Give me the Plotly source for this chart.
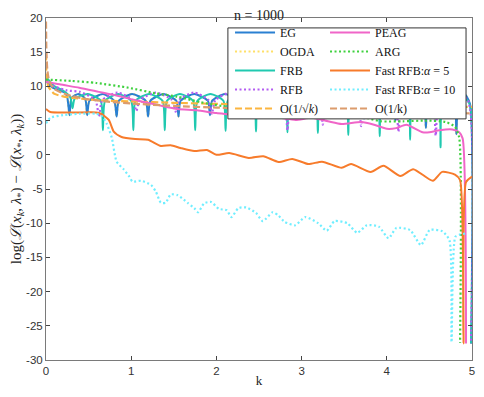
import plotly.graph_objects as go

# ---- data ----
eg_k = [0, 0.03, 0.08, 0.15, 0.22, 0.25, 0.276, 0.30, 0.38, 0.46, 0.484, 0.51, 0.67, 0.80, 0.829, 0.855,
        1.01, 1.17, 1.198, 1.225, 1.38, 1.53, 1.555, 1.58, 1.74, 1.90, 1.924, 1.95, 2.10, 2.255, 2.281, 2.305,
        2.46, 2.61, 2.638, 2.665, 2.82, 2.98, 3.007, 3.035, 3.19, 3.34, 3.364, 3.39, 3.55, 3.705, 3.733, 3.76,
        3.92, 4.075, 4.101, 4.127, 4.28, 4.433, 4.459, 4.485, 4.64, 4.79, 4.816, 4.84, 4.91, 4.975, 4.99]
eg_v = [10.9, 10.3, 9.8, 9.4, 9.1, 8.4, 5.8, 8.3, 8.9, 8.2, 5.8, 7.9, 8.9, 7.9, 5.6, 7.9,
        8.9, 7.9, 5.6, 7.9, 8.9, 7.9, 5.6, 7.9, 8.9, 7.9, 5.8, 7.9, 8.9, 7.9, 5.7, 7.9,
        8.9, 7.9, 5.7, 7.9, 8.9, 7.9, 5.6, 7.9, 8.9, 7.9, 5.5, 7.9, 8.9, 7.9, 5.3, 7.9,
        8.9, 7.9, 5.0, 7.9, 8.9, 7.8, 3.9, 7.8, 8.9, 7.8, 3.0, 7.8, 8.9, 7.5, -27.6]

frb_k = [0, 0.04, 0.10, 0.20, 0.285, 0.311, 0.337, 0.49, 0.642, 0.668, 0.694, 0.846, 0.999, 1.025, 1.051,
         1.21, 1.368, 1.394, 1.42, 1.572, 1.725, 1.751, 1.777, 1.93, 2.082, 2.108, 2.134, 2.286, 2.439, 2.465,
         2.491, 2.65, 2.808, 2.834, 2.86, 3.012, 3.165, 3.191, 3.217, 3.37, 3.522, 3.548, 3.574, 3.733, 3.891,
         3.917, 3.943, 4.095, 4.248, 4.274, 4.30, 4.452, 4.605, 4.631, 4.657, 4.81, 4.965, 4.99]
frb_v = [11.4, 10.8, 10.0, 9.4, 8.4, 6.8, 8.2, 8.9, 7.9, 3.6, 7.9, 8.9, 7.9, 3.6, 7.9,
         8.9, 7.9, 3.6, 7.9, 8.9, 7.9, 3.6, 7.9, 8.9, 7.9, 3.5, 7.9, 8.9, 7.9, 3.4,
         7.9, 8.9, 7.9, 3.3, 7.9, 8.9, 7.9, 3.2, 7.9, 8.9, 7.9, 2.9, 7.9, 8.9, 7.9,
         2.7, 7.9, 8.9, 7.9, 2.2, 7.9, 8.9, 7.8, 1.1, 7.8, 8.9, 7.6, -27.6]

rfb_k = [0, 0.10, 0.25, 0.40, 0.58, 0.622, 0.66, 0.84, 1.02, 1.06, 1.10, 1.29, 1.48, 1.521, 1.56, 1.734,
         1.907, 1.947, 1.987, 2.166, 2.345, 2.385, 2.425, 2.61, 2.794, 2.834, 2.874, 3.04, 3.209, 3.249,
         3.289, 3.47, 3.658, 3.698, 3.738, 3.917, 4.096, 4.136, 4.176, 4.355, 4.534, 4.574, 4.614, 4.78,
         4.95, 4.988]
rfb_v = [11.0, 10.0, 9.4, 9.2, 8.0, 5.6, 8.0, 9.1, 8.0, 6.4, 8.0, 9.1, 8.0, 6.3, 8.0, 9.1,
         8.0, 6.0, 8.0, 9.1, 8.0, 5.5, 8.0, 9.1, 8.0, 3.6, 8.0, 9.1, 8.0, 4.4,
         8.0, 9.1, 8.0, 4.2, 8.0, 9.1, 8.0, 3.4, 8.0, 9.1, 8.0, 2.8, 8.0, 9.1,
         8.0, -27.6]

rate_k = [0, 0.005, 0.015, 0.03, 0.06, 0.1, 0.2, 0.3, 0.5, 0.75, 1.0, 1.5, 2.0, 2.5, 3.0, 3.5, 4.0, 4.5, 5.0]
sqrt_v = [14.8, 12.0, 10.6, 9.9, 9.4, 8.9, 8.55, 8.35, 8.1, 7.9, 7.8, 7.6, 7.45, 7.35, 7.25, 7.18, 7.1, 7.05, 7.0]
inv_v = [19.5, 15.0, 12.5, 11.2, 10.2, 9.6, 9.0, 8.6, 8.1, 7.75, 7.5, 7.15, 6.9, 6.7, 6.5, 6.4, 6.25, 6.15, 6.05]

peag_k = [0, 0.16, 0.39, 0.62, 0.85, 1.08, 1.31, 1.54, 1.77, 2.0, 2.24, 2.41, 2.58, 2.75, 2.93, 3.12,
          3.31, 3.47, 3.70, 3.85, 4.0, 4.11, 4.23, 4.42, 4.50, 4.62, 4.77, 4.85, 4.89, 4.93]
peag_v = [10.7, 10.3, 9.8, 9.2, 8.6, 7.9, 7.3, 6.7, 6.5, 6.1, 5.8, 5.4, 5.6, 5.4, 5.1, 5.4,
          4.9, 4.5, 4.8, 4.4, 3.8, 3.9, 4.4, 3.3, 3.3, 3.6, 3.7, 3.3, 2.4, -27.6]

arg_k = [0, 0.3, 0.59, 0.97, 1.28, 1.54, 1.81, 2.15, 2.55, 2.85, 3.16, 3.39, 3.70, 3.93, 4.19, 4.46,
         4.69, 4.80, 4.85, 4.86]
arg_v = [11.0, 10.8, 10.5, 9.8, 9.0, 8.5, 7.7, 7.0, 6.9, 6.6, 6.2, 6.0, 5.6, 4.9, 4.9, 5.0,
         4.8, 4.1, 2.5, -27.5]

f5_k = [0, 0.05, 0.59, 0.645, 0.737, 0.795, 0.887, 1.048, 1.198, 1.348, 1.463, 1.578, 1.74, 1.89, 2.0,
        2.15, 2.38, 2.55, 2.73, 2.89, 3.08, 3.24, 3.47, 3.58, 3.81, 3.96, 4.16, 4.31, 4.54, 4.65, 4.80,
        4.86, 4.90, 4.93, 5.0]
f5_v = [6.7, 6.25, 6.2, 6.0, 5.1, 3.4, 2.6, 2.3, 2.2, 1.3, 1.4, 1.0, 0.55, 0.7, 0.0,
        0.25, -0.45, -0.2, -1.05, -0.6, -1.35, -1.0, -1.9, -1.35, -2.5, -1.6, -3.1, -2.1, -3.8, -2.5, -2.9,
        -3.7, -27.6, -4.0, -3.2]

f10_k = [0, 0.05, 0.2, 0.39, 0.59, 0.66, 0.714, 0.772, 0.829, 0.91, 0.979, 1.014, 1.118, 1.233, 1.29,
         1.348, 1.405, 1.463, 1.545, 1.66, 1.74, 1.786, 1.855, 1.94, 2.028, 2.12, 2.177, 2.258, 2.35, 2.465,
         2.545, 2.66, 2.73, 2.8, 2.926, 3.042, 3.194, 3.295, 3.387, 3.537, 3.652, 3.767, 3.906, 4.021, 4.112,
         4.274, 4.4, 4.504, 4.654, 4.735, 4.76, 4.804, 4.85, 4.92]
f10_v = [4.6, 5.4, 5.8, 6.0, 6.0, 5.6, 4.5, 2.5, -1.0, -2.1, -3.2, -3.9, -3.8, -4.4, -5.4,
         -7.0, -7.0, -5.8, -5.9, -7.0, -7.8, -8.4, -7.1, -6.9, -7.9, -8.1, -9.1, -7.8, -7.7, -8.5,
         -9.7, -8.4, -8.9, -9.8, -10.3, -9.1, -10.0, -11.1, -9.7, -10.0, -11.4, -10.3, -10.5, -12.2, -10.7,
         -11.0, -13.2, -11.0, -11.2, -12.5, -27.4, -12.0, -11.7, -11.5]

serif = "Liberation Serif"
sans = "Liberation Sans"

# (name, k, values, color, dash, legend, rank) in drawing order
series = [
    ("OGDA", eg_k, eg_v, "#ffe066", "2px,2.5px", "legend", 2),
    ("EG", eg_k, eg_v, "#2a80d2", "solid", "legend", 1),
    ("FRB", frb_k, frb_v, "#20c9b0", "solid", "legend", 3),
    ("RFB", rfb_k, rfb_v, "#b35cf2", "2px,2.5px", "legend", 4),
    ("O(1/√<i>k</i>)", rate_k, sqrt_v, "#fbb540", "7px,3px", "legend", 5),
    ("PEAG", peag_k, peag_v, "#f065c8", "solid", "legend2", 6),
    ("ARG", arg_k, arg_v, "#3fd13f", "2px,2.5px", "legend2", 7),
    ("Fast RFB:<i>α</i> = 5", f5_k, f5_v, "#f77b2b", "solid", "legend2", 8),
    ("Fast RFB:<i>α</i> = 10", f10_k, f10_v, "#70eeff", "2px,2.5px", "legend2", 9),
    ("O(1/k)", rate_k, inv_v, "#dc9c6c", "7px,3px", "legend2", 10),
]

fig = go.Figure()
for name, kk, vv, col, dash, leg, rank in series:
    fig.add_trace(go.Scatter(
        x=kk, y=vv, name=name, mode="lines",
        line=dict(color=col, width=2.2 if dash != "solid" else 2, dash=dash, shape="spline", smoothing=0.6),
        legend=leg, legendrank=rank))

yt = list(range(-30, 25, 5))
legfont = dict(family=serif, size=12, color="#111")
# the page body keeps an 8px margin all round, so the figure fits inside it
fig.update_layout(
    width=468, height=381,
    margin=dict(l=38, r=4, t=10, b=29),
    plot_bgcolor="white", paper_bgcolor="white",
    showlegend=True,
    title=dict(text="n = 1000", x=0.5, xref="paper", y=1, yref="container",
               yanchor="top", pad=dict(t=2, b=0), font=dict(family=serif, size=14, color="#222")),
    xaxis=dict(range=[0, 5], tickvals=[0, 1, 2, 3, 4, 5], ticks="inside", ticklen=4, mirror="ticks",
               showline=True, linecolor="#7a7a7a", linewidth=1, showgrid=False, zeroline=False,
               automargin=False, ticklabeloverflow="allow",
               tickfont=dict(family=sans, size=11.5, color="#333"),
               title=dict(text="k", font=dict(family=serif, size=13, color="#222"), standoff=0)),
    yaxis=dict(range=[-30, 20], tickvals=yt, ticktext=[str(t) for t in yt], ticks="inside", ticklen=4,
               mirror="ticks", showline=True, linecolor="#7a7a7a", linewidth=1, showgrid=False,
               zeroline=False, automargin=False, ticklabeloverflow="allow",
               tickfont=dict(family=sans, size=11.5, color="#333"),
               title=dict(text="log(<i>ℒ</i>(<i>x<sub>k</sub></i>, <i>λ</i><sub>*</sub>) − "
                               "<i>ℒ</i>(<i>x</i><sub>*</sub>, <i>λ<sub>k</sub></i>))",
                          font=dict(family=serif, size=15, color="#222"), standoff=0)),
    legend=dict(x=0.432, y=1.0, xanchor="left", yanchor="top", bgcolor="rgba(0,0,0,0)",
                borderwidth=0, font=legfont, itemwidth=40, traceorder="normal"),
    legend2=dict(x=0.655, y=1.0, xanchor="left", yanchor="top", bgcolor="rgba(0,0,0,0)",
                 borderwidth=0, font=legfont, itemwidth=40, traceorder="normal"),
    shapes=[dict(type="rect", xref="paper", yref="paper", x0=0.427, x1=0.986, y0=0.705, y1=0.971,
                 line=dict(color="#333", width=1), fillcolor="white", layer="above")],
)

fig.write_html("out.html")
